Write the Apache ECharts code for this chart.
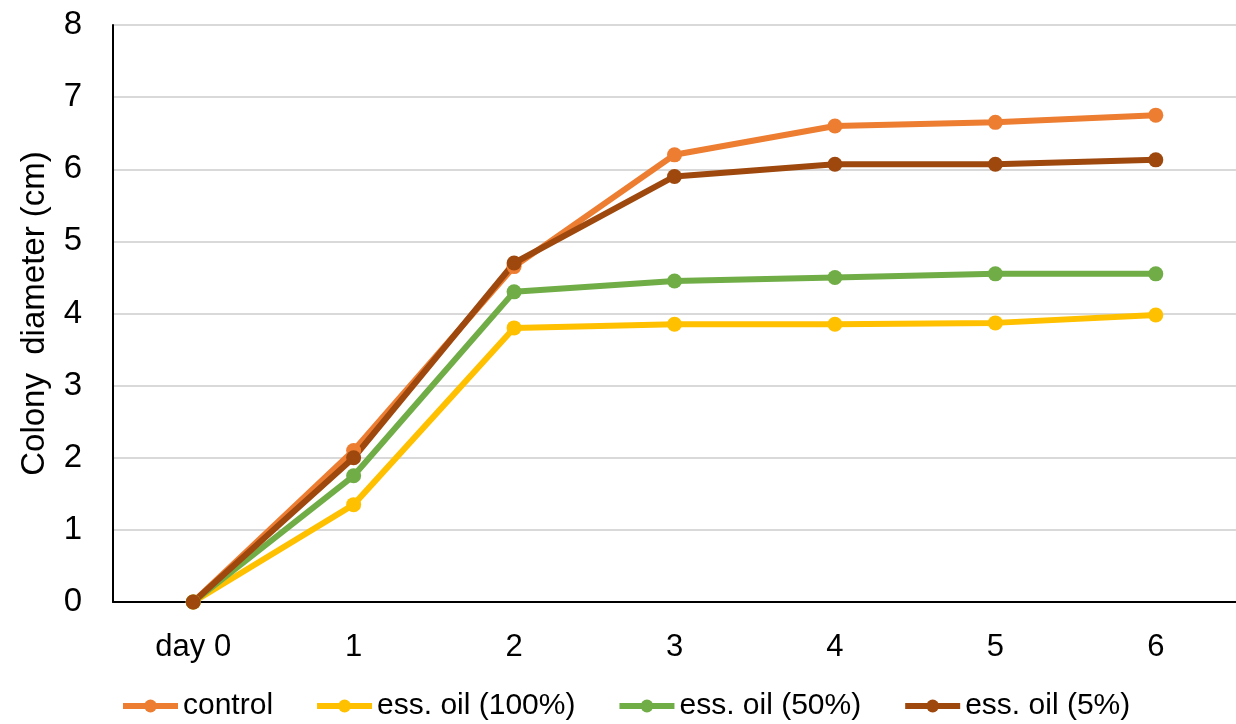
<!DOCTYPE html>
<html><head><meta charset="utf-8">
<script src="https://cdn.jsdelivr.net/npm/echarts@6/dist/echarts.min.js"></script>
<style>html,body{margin:0;padding:0;background:#fff}#c{width:1236px;height:724px}</style>
</head><body><div id="c"></div>
<script>
var categories = ['day 0', '1', '2', '3', '4', '5', '6'];
var control = [0, 2.1, 4.65, 6.2, 6.6, 6.65, 6.75];
var oil100 = [0, 1.35, 3.8, 3.85, 3.85, 3.87, 3.98];
var oil50 = [0, 1.75, 4.3, 4.45, 4.5, 4.55, 4.55];
var oil5 = [0, 2.0, 4.7, 5.9, 6.07, 6.07, 6.13];
var yTicks = [0, 1, 2, 3, 4, 5, 6, 7, 8];

var F = 'Liberation Sans, Arial, sans-serif';
function mk(name, data, color) {
  return {
    name: name, type: 'line', data: data, symbol: 'circle', symbolSize: 15,
    lineStyle: {width: 6, color: color}, itemStyle: {color: color},
    animation: false
  };
}
var chart = echarts.init(document.getElementById('c'));
chart.setOption({
  backgroundColor: '#fff',
  grid: {left: 113, right: 0, top: 25, bottom: 122},
  legend: {
    top: 686, left: 115, itemWidth: 55, itemHeight: 16, itemGap: 41,
    lineStyle: {width: 6},
    textStyle: {fontFamily: F, fontSize: 30, color: '#000'},
    data: ['control', 'ess. oil (100%)', 'ess. oil (50%)', 'ess. oil (5%)']
  },
  xAxis: {
    type: 'category', data: categories, boundaryGap: true,
    axisLine: {lineStyle: {color: '#000', width: 2}},
    axisTick: {show: false},
    axisLabel: {fontFamily: F, fontSize: 31, color: '#000', margin: 30}
  },
  yAxis: {
    type: 'value', min: yTicks[0], max: yTicks[yTicks.length - 1], interval: 1,
    name: 'Colony  diameter (cm)', nameLocation: 'middle', nameGap: 62,
    nameTextStyle: {fontFamily: F, fontSize: 33, color: '#000'},
    axisLine: {show: true, lineStyle: {color: '#000', width: 2}},
    axisTick: {show: false},
    axisLabel: {fontFamily: F, fontSize: 33, color: '#000', margin: 31},
    splitLine: {lineStyle: {color: '#d9d9d9', width: 2}}
  },
  series: [
    mk('control', control, '#ED7D31'),
    mk('ess. oil (100%)', oil100, '#FFC000'),
    mk('ess. oil (50%)', oil50, '#70AD47'),
    mk('ess. oil (5%)', oil5, '#9E480E')
  ]
});
</script></body></html>
